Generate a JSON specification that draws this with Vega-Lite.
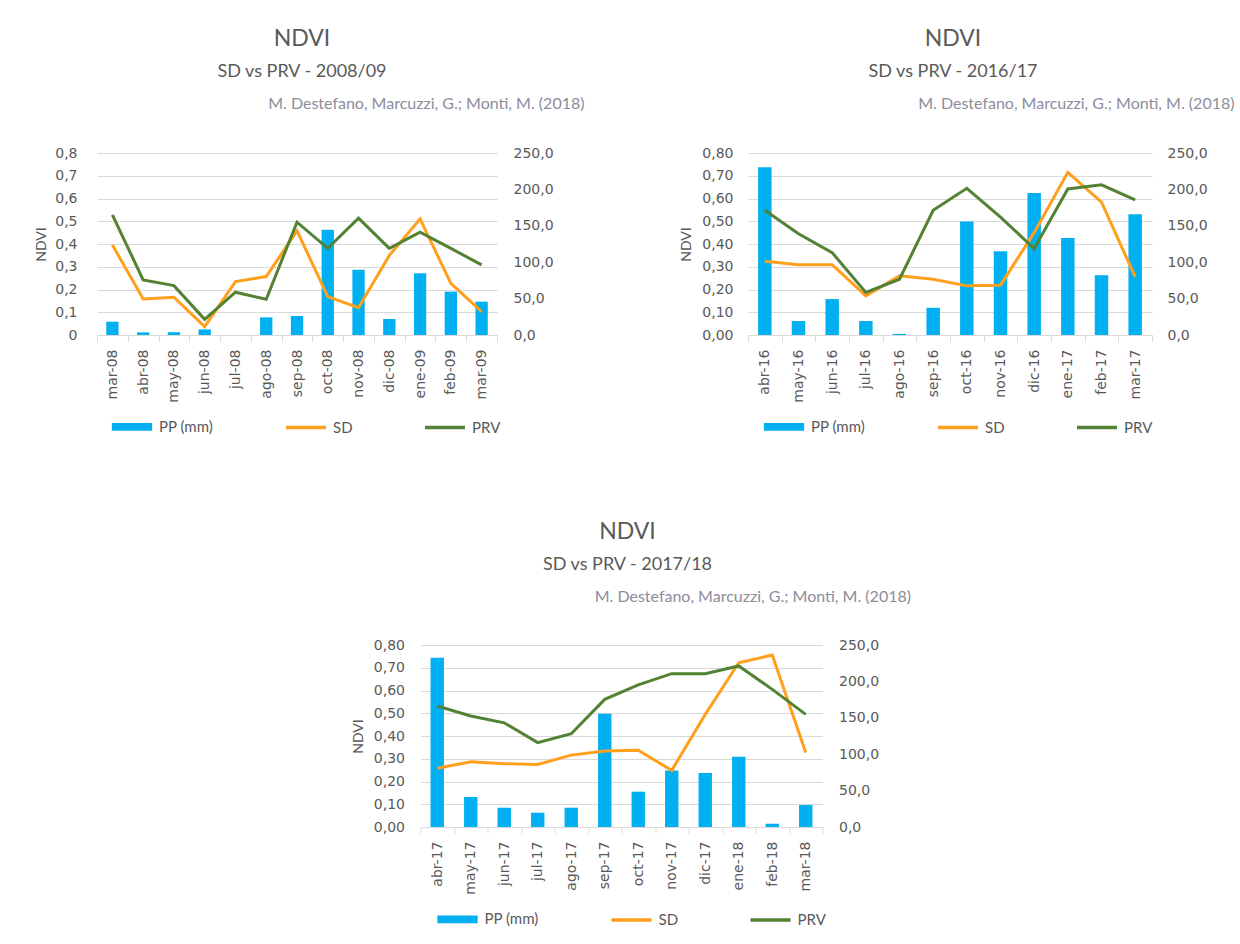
{
  "$schema": "https://vega.github.io/schema/vega-lite/v6.json",
  "background": "white",
  "padding": {"left": 34, "top": 27, "right": 0, "bottom": 0},
  "data": {"values": [
    {"p": "A", "m": "mar-08", "PP": 18.3, "SD": 0.396, "PRV": 0.528},
    {"p": "A", "m": "abr-08", "PP": 3.6, "SD": 0.158, "PRV": 0.242},
    {"p": "A", "m": "may-08", "PP": 3.9, "SD": 0.166, "PRV": 0.217},
    {"p": "A", "m": "jun-08", "PP": 7.7, "SD": 0.037, "PRV": 0.069},
    {"p": "A", "m": "jul-08", "PP": 0, "SD": 0.235, "PRV": 0.188},
    {"p": "A", "m": "ago-08", "PP": 24.2, "SD": 0.257, "PRV": 0.157},
    {"p": "A", "m": "sep-08", "PP": 26.1, "SD": 0.458, "PRV": 0.496},
    {"p": "A", "m": "oct-08", "PP": 144.6, "SD": 0.169, "PRV": 0.381},
    {"p": "A", "m": "nov-08", "PP": 89.5, "SD": 0.12, "PRV": 0.514},
    {"p": "A", "m": "dic-08", "PP": 22, "SD": 0.35, "PRV": 0.381},
    {"p": "A", "m": "ene-09", "PP": 84.8, "SD": 0.51, "PRV": 0.452},
    {"p": "A", "m": "feb-09", "PP": 59.6, "SD": 0.227, "PRV": 0.381},
    {"p": "A", "m": "mar-09", "PP": 45.8, "SD": 0.103, "PRV": 0.308},
    {"p": "B", "m": "abr-16", "PP": 230.4, "SD": 0.324, "PRV": 0.548},
    {"p": "B", "m": "may-16", "PP": 19.2, "SD": 0.309, "PRV": 0.445},
    {"p": "B", "m": "jun-16", "PP": 49.3, "SD": 0.309, "PRV": 0.362},
    {"p": "B", "m": "jul-16", "PP": 19.2, "SD": 0.172, "PRV": 0.187},
    {"p": "B", "m": "ago-16", "PP": 1.5, "SD": 0.26, "PRV": 0.245},
    {"p": "B", "m": "sep-16", "PP": 37.4, "SD": 0.245, "PRV": 0.548},
    {"p": "B", "m": "oct-16", "PP": 156, "SD": 0.216, "PRV": 0.645},
    {"p": "B", "m": "nov-16", "PP": 115, "SD": 0.219, "PRV": 0.518},
    {"p": "B", "m": "dic-16", "PP": 195.2, "SD": 0.45, "PRV": 0.38},
    {"p": "B", "m": "ene-17", "PP": 133.2, "SD": 0.715, "PRV": 0.642},
    {"p": "B", "m": "feb-17", "PP": 82.1, "SD": 0.584, "PRV": 0.66},
    {"p": "B", "m": "mar-17", "PP": 166, "SD": 0.255, "PRV": 0.594},
    {"p": "C", "m": "abr-17", "PP": 232.6, "SD": 0.258, "PRV": 0.532},
    {"p": "C", "m": "may-17", "PP": 41.2, "SD": 0.287, "PRV": 0.488},
    {"p": "C", "m": "jun-17", "PP": 26.5, "SD": 0.278, "PRV": 0.458},
    {"p": "C", "m": "jul-17", "PP": 19.6, "SD": 0.275, "PRV": 0.371},
    {"p": "C", "m": "ago-17", "PP": 26.5, "SD": 0.316, "PRV": 0.41},
    {"p": "C", "m": "sep-17", "PP": 155.6, "SD": 0.334, "PRV": 0.561},
    {"p": "C", "m": "oct-17", "PP": 48.5, "SD": 0.337, "PRV": 0.625},
    {"p": "C", "m": "nov-17", "PP": 77.7, "SD": 0.249, "PRV": 0.674},
    {"p": "C", "m": "dic-17", "PP": 74.2, "SD": 0.495, "PRV": 0.674},
    {"p": "C", "m": "ene-18", "PP": 96.6, "SD": 0.722, "PRV": 0.708},
    {"p": "C", "m": "feb-18", "PP": 4.5, "SD": 0.756, "PRV": 0.605},
    {"p": "C", "m": "mar-18", "PP": 30.2, "SD": 0.327, "PRV": 0.495}
  ]},
  "vconcat": [
    {
      "hconcat": [
        {
          "width": 400, "height": 182,
          "title": {"text": "NDVI", "subtitle": "SD vs PRV - 2008/09", "dx": 5},
          "transform": [{"filter": "datum.p == 'A'"}],
          "resolve": {"scale": {"y": "independent"}, "axis": {"x": "independent"}},
          "layer": [
            {
              "mark": {"type": "bar", "width": {"band": 0.4}},
              "encoding": {
                "x": {"field": "m", "type": "ordinal", "sort": null, "scale": {"paddingInner": 0, "paddingOuter": 0},
                  "axis": {"orient": "bottom", "title": null, "labelAngle": 270, "tickBand": "extent", "ticks": true, "tickSize": 6, "tickColor": "#D9D9D9", "domainColor": "#D9D9D9", "labelPadding": 8}},
                "y": {"field": "PP", "type": "quantitative", "scale": {"domain": [0, 250]},
                  "axis": {"orient": "right", "title": null, "values": [0, 50, 100, 150, 200, 250], "labelExpr": "replace(format(datum.value, '.1f'), '.', ',')", "grid": false, "domain": false, "ticks": false, "labelPadding": 16}},
                "color": {"datum": "PP (mm)", "type": "nominal", "scale": {"domain": ["PP (mm)", "SD", "PRV"], "range": ["#00B0F0", "#FF9F1C", "#548235"]},
                  "legend": {"orient": "none", "legendX": 13, "legendY": 251.5, "direction": "horizontal", "title": null, "symbolSize": 1600, "columnPadding": 65, "labelFontSize": 15, "labelColor": "#595959", "labelOffset": 5,
                    "encode": {"symbols": {"update": {
                      "shape": {"signal": "datum.value == 'PP (mm)' ? 'M-0.92,-0.11H0.92V0.11H-0.92Z' : 'stroke'"},
                      "fill": {"signal": "datum.value == 'PP (mm)' ? '#00B0F0' : 'transparent'"},
                      "stroke": {"signal": "datum.value == 'PP (mm)' ? 'transparent' : (datum.value == 'SD' ? '#FF9F1C' : '#548235')"},
                      "strokeWidth": {"value": 3.5},
                      "opacity": {"value": 1}
                    }}}}}
              }
            },
            {
              "mark": {"type": "line", "strokeWidth": 3},
              "transform": [{"fold": ["SD", "PRV"], "as": ["serie", "ndvi"]}],
              "encoding": {
                "x": {"field": "m", "type": "ordinal", "sort": null,
                  "axis": {"orient": "top", "title": "M. Destefano, Marcuzzi, G.; Monti, M. (2018)", "labels": false, "ticks": false, "domain": false, "titleX": 487, "titleY": -50, "titleAlign": "right", "titleBaseline": "middle", "titleFontSize": 16, "titleFont": "Lato", "titleFontWeight": "normal", "titleColor": "#8C8C9C"}},
                "y": {"field": "ndvi", "type": "quantitative", "scale": {"domain": [0, 0.8]},
                  "axis": {"title": "NDVI", "values": [0, 0.1, 0.2, 0.3, 0.4, 0.5, 0.6, 0.7, 0.8], "labelExpr": "datum.value == 0 ? '0' : replace(format(datum.value, '.1f'), '.', ',')", "grid": true, "gridColor": "#D9D9D9", "domain": false, "ticks": false, "labelPadding": 20, "titlePadding": 6}},
                "color": {"field": "serie", "type": "nominal", "title": null}
              }
            }
          ]
        },
        {
          "width": 404, "height": 182,
          "title": {"text": "NDVI", "subtitle": "SD vs PRV - 2016/17", "dx": 3},
          "transform": [{"filter": "datum.p == 'B'"}],
          "resolve": {"scale": {"y": "independent"}, "axis": {"x": "independent"}},
          "layer": [
            {
              "mark": {"type": "bar", "width": {"band": 0.4}},
              "encoding": {
                "x": {"field": "m", "type": "ordinal", "sort": null, "scale": {"paddingInner": 0, "paddingOuter": 0},
                  "axis": {"orient": "bottom", "title": null, "labelAngle": 270, "tickBand": "extent", "ticks": true, "tickSize": 6, "tickColor": "#D9D9D9", "domainColor": "#D9D9D9", "labelPadding": 8}},
                "y": {"field": "PP", "type": "quantitative", "scale": {"domain": [0, 250]},
                  "axis": {"orient": "right", "title": null, "values": [0, 50, 100, 150, 200, 250], "labelExpr": "replace(format(datum.value, '.1f'), '.', ',')", "grid": false, "domain": false, "ticks": false, "labelPadding": 15}},
                "color": {"datum": "PP (mm)", "type": "nominal", "scale": {"domain": ["PP (mm)", "SD", "PRV"], "range": ["#00B0F0", "#FF9F1C", "#548235"]},
                  "legend": {"orient": "none", "legendX": 14, "legendY": 251.5, "direction": "horizontal", "title": null, "symbolSize": 1600, "columnPadding": 65, "labelFontSize": 15, "labelColor": "#595959", "labelOffset": 5,
                    "encode": {"symbols": {"update": {
                      "shape": {"signal": "datum.value == 'PP (mm)' ? 'M-0.92,-0.11H0.92V0.11H-0.92Z' : 'stroke'"},
                      "fill": {"signal": "datum.value == 'PP (mm)' ? '#00B0F0' : 'transparent'"},
                      "stroke": {"signal": "datum.value == 'PP (mm)' ? 'transparent' : (datum.value == 'SD' ? '#FF9F1C' : '#548235')"},
                      "strokeWidth": {"value": 3.5},
                      "opacity": {"value": 1}
                    }}}}}
              }
            },
            {
              "mark": {"type": "line", "strokeWidth": 3},
              "transform": [{"fold": ["SD", "PRV"], "as": ["serie", "ndvi"]}],
              "encoding": {
                "x": {"field": "m", "type": "ordinal", "sort": null,
                  "axis": {"orient": "top", "title": "M. Destefano, Marcuzzi, G.; Monti, M. (2018)", "labels": false, "ticks": false, "domain": false, "titleX": 486, "titleY": -50, "titleAlign": "right", "titleBaseline": "middle", "titleFontSize": 16, "titleFont": "Lato", "titleFontWeight": "normal", "titleColor": "#8C8C9C"}},
                "y": {"field": "ndvi", "type": "quantitative", "scale": {"domain": [0, 0.8]},
                  "axis": {"title": "NDVI", "values": [0, 0.1, 0.2, 0.3, 0.4, 0.5, 0.6, 0.7, 0.8], "labelExpr": "replace(format(datum.value, '.2f'), '.', ',')", "grid": true, "gridColor": "#D9D9D9", "domain": false, "ticks": false, "labelPadding": 15, "titlePadding": 8}},
                "color": {"field": "serie", "type": "nominal", "title": null}
              }
            }
          ]
        }
      ],
      "spacing": 251,
      "bounds": "flush",
      "resolve": {"scale": {"x": "independent", "y": "independent", "color": "independent"}, "legend": {"color": "independent"}}
    },
    {
      "width": 402, "height": 182,
      "title": {"text": "NDVI", "subtitle": "SD vs PRV - 2017/18", "dx": 6},
      "transform": [{"filter": "datum.p == 'C'"}],
      "resolve": {"scale": {"y": "independent"}, "axis": {"x": "independent"}},
      "layer": [
        {
          "mark": {"type": "bar", "width": {"band": 0.4}},
          "encoding": {
            "x": {"field": "m", "type": "ordinal", "sort": null, "scale": {"paddingInner": 0, "paddingOuter": 0},
              "axis": {"orient": "bottom", "title": null, "labelAngle": 270, "tickBand": "extent", "ticks": true, "tickSize": 6, "tickColor": "#D9D9D9", "domainColor": "#D9D9D9", "labelPadding": 8}},
            "y": {"field": "PP", "type": "quantitative", "scale": {"domain": [0, 250]},
              "axis": {"orient": "right", "title": null, "values": [0, 50, 100, 150, 200, 250], "labelExpr": "replace(format(datum.value, '.1f'), '.', ',')", "grid": false, "domain": false, "ticks": false, "labelPadding": 16}},
            "color": {"datum": "PP (mm)", "type": "nominal", "scale": {"domain": ["PP (mm)", "SD", "PRV"], "range": ["#00B0F0", "#FF9F1C", "#548235"]},
              "legend": {"orient": "none", "legendX": 15, "legendY": 252, "direction": "horizontal", "title": null, "symbolSize": 1600, "columnPadding": 65, "labelFontSize": 15, "labelColor": "#595959", "labelOffset": 5,
                "encode": {"symbols": {"update": {
                  "shape": {"signal": "datum.value == 'PP (mm)' ? 'M-0.92,-0.11H0.92V0.11H-0.92Z' : 'stroke'"},
                  "fill": {"signal": "datum.value == 'PP (mm)' ? '#00B0F0' : 'transparent'"},
                  "stroke": {"signal": "datum.value == 'PP (mm)' ? 'transparent' : (datum.value == 'SD' ? '#FF9F1C' : '#548235')"},
                  "strokeWidth": {"value": 3.5},
                  "opacity": {"value": 1}
                }}}}}
          }
        },
        {
          "mark": {"type": "line", "strokeWidth": 3},
          "transform": [{"fold": ["SD", "PRV"], "as": ["serie", "ndvi"]}],
          "encoding": {
            "x": {"field": "m", "type": "ordinal", "sort": null,
              "axis": {"orient": "top", "title": "M. Destefano, Marcuzzi, G.; Monti, M. (2018)", "labels": false, "ticks": false, "domain": false, "titleX": 490, "titleY": -49, "titleAlign": "right", "titleBaseline": "middle", "titleFontSize": 16, "titleFont": "Lato", "titleFontWeight": "normal", "titleColor": "#8C8C9C"}},
            "y": {"field": "ndvi", "type": "quantitative", "scale": {"domain": [0, 0.8]},
              "axis": {"title": "NDVI", "values": [0, 0.1, 0.2, 0.3, 0.4, 0.5, 0.6, 0.7, 0.8], "labelExpr": "replace(format(datum.value, '.2f'), '.', ',')", "grid": true, "gridColor": "#D9D9D9", "domain": false, "ticks": false, "labelPadding": 16, "titlePadding": 8}},
            "color": {"field": "serie", "type": "nominal", "title": null}
          }
        }
      ]
    }
  ],
  "spacing": 83,
  "center": true,
  "resolve": {"scale": {"x": "independent", "y": "independent", "color": "independent"}, "legend": {"color": "independent"}},
  "config": {
    "font": "Lato",
    "view": {"stroke": null},
    "axis": {"labelColor": "#595959", "labelFont": "DejaVu Sans", "labelFontSize": 14, "titleColor": "#595959", "titleFont": "Lato", "titleFontSize": 14, "titleFontWeight": "normal"},
    "title": {"fontSize": 23, "color": "#595959", "fontWeight": "normal", "subtitleFontSize": 18, "subtitleColor": "#595959", "subtitlePadding": 12, "anchor": "middle", "frame": "group", "offset": 14.5},
    "legend": {"labelFont": "Lato"}
  }
}
